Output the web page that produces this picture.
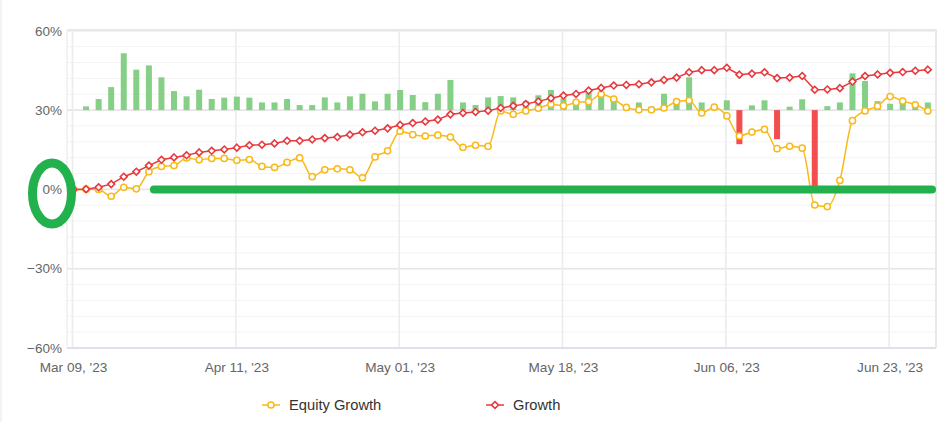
<!DOCTYPE html>
<html>
<head>
<meta charset="utf-8">
<script src="https://cdn.jsdelivr.net/npm/d3@7"></script>
<style>
  body { margin: 0; background: #fff; }
  text { font-family: 'Liberation Sans', Arial, sans-serif; }
</style>
</head>
<body>
<div id="chart"></div>
<script>
// one point per trading record, index 0 = Mar 09, '23
const growth = [
  0, 0.1, 0.8, 2.0, 4.8, 6.7, 9.0, 11.2, 12.1, 12.9, 14.0, 14.6, 15.1, 15.8,
  16.7, 16.9, 17.4, 18.4, 18.4, 18.9, 19.4, 19.8, 20.7, 21.6, 22.2, 23.1, 24.4,
  25.1, 25.7, 26.4, 28.4, 28.9, 29.3, 29.8, 30.8, 31.6, 32.3, 33.3, 34.5, 35.5,
  36.1, 37.4, 38.4, 39.3, 39.5, 39.8, 40.5, 41.4, 42.3, 44.3, 45.1, 45.1, 46.0,
  43.4, 43.8, 44.3, 42.1, 42.3, 42.9, 37.7, 37.8, 38.3, 40.8, 42.9, 43.5, 44.1,
  44.4, 44.9, 45.3
]

const equityGrowth = [
  0, 0.1, 0, -2.6, 0.8, 0.2, 6.7, 8.7, 9.0, 11.9, 11.2, 11.7, 11.7, 11.0,
  11.3, 8.7, 8.3, 10.2, 11.9, 4.8, 7.4, 7.8, 7.4, 4.4, 12.3, 14.6, 22.0,
  20.7, 20.2, 20.5, 19.8, 15.9, 16.7, 16.3, 29.7, 28.4, 29.7, 30.7, 32.2, 31.6,
  32.9, 33.2, 36.0, 34.2, 31.0, 30.1, 30.1, 30.8, 33.2, 33.6, 28.9, 31.1, 27.8,
  20.2, 21.7, 22.7, 15.4, 16.3, 15.6, -5.9, -6.5, 3.4, 26.0, 29.7, 31.5, 35.1,
  33.4, 32.0, 29.7
]

// daily change bars, drawn from the 30% line
const dailyChange = [
  0, 1.4, 4.2, 8.7, 21.5, 15.3, 16.9, 12.4, 7.2, 5.2, 7.7, 4.2, 4.7, 5.1,
  4.7, 2.9, 2.9, 4.2, 1.9, 1.9, 4.8, 2.9, 5.2, 6.2, 3.3, 6.2, 7.6,
  5.7, 3.0, 6.2, 11.4, 2.9, 1.9, 4.8, 5.3, 4.8, 3.4, 5.6, 7.6, 4.5,
  3.6, 7.8, 6.5, 3.8, 1.2, 2.9, 1.3, 6.2, 4.0, 12.4, 2.9, 1.5, 3.7,
  -12.9, 1.8, 3.7, -11.0, 1.3, 4.1, -29, 1.5, 2.9, 13.9, 11.0, 3.4, 2.4,
  3.4, 2.9, 2.9
]

const tickIndex = [0, 13, 26, 39, 52, 65]
const tickLabels = ["Mar 09, '23", "Apr 11, '23", "May 01, '23", "May 18, '23", "Jun 06, '23", "Jun 23, '23"]
const yTicks = [-60, -30, 0, 30, 60]
const barBase = 30

const width = 948
const height = 422

const svg = d3
  .select('#chart')
  .append('svg')
  .attr('width', width)
  .attr('height', height)

const xPositionScale = d3
  .scaleLinear()
  .domain([0, 68.65])
  .range([73.5, 936])

const yPositionScale = d3
  .scaleLinear()
  .domain([-60, 60])
  .range([348, 30.8])

// page border on the left
svg
  .append('line')
  .attr('x1', 1)
  .attr('x2', 1)
  .attr('y1', 0)
  .attr('y2', height)
  .attr('stroke', '#e6e6e6')

// minor + major horizontal grid
svg
  .append('g')
  .selectAll('line')
  .data(d3.range(-60, 61, 6))
  .enter()
  .append('line')
  .attr('x1', 67)
  .attr('x2', 936)
  .attr('y1', d => yPositionScale(d))
  .attr('y2', d => yPositionScale(d))
  .attr('stroke', d => (d % 30 === 0 ? '#e6e6e6' : '#f3f3f3'))
  .attr('stroke-width', d => (d % 30 === 0 ? 1.6 : 1))

// vertical grid at the date ticks
svg
  .append('g')
  .selectAll('line')
  .data(tickIndex)
  .enter()
  .append('line')
  .attr('x1', d => xPositionScale(d) - 1)
  .attr('x2', d => xPositionScale(d) - 1)
  .attr('y1', 30)
  .attr('y2', 348)
  .attr('stroke', '#ececec')
  .attr('stroke-width', 1.6)

// plot frame
svg
  .append('path')
  .attr('d', 'M67,30H936V348')
  .attr('fill', 'none')
  .attr('stroke', '#e8e8e8')
  .attr('stroke-width', 2)

svg
  .append('line')
  .attr('x1', 67)
  .attr('x2', 67)
  .attr('y1', 30)
  .attr('y2', 348)
  .attr('stroke', '#e3e7ef')

svg
  .append('line')
  .attr('x1', 67)
  .attr('x2', 936)
  .attr('y1', 348)
  .attr('y2', 348)
  .attr('stroke', '#ccd6eb')

// y labels
svg
  .append('g')
  .selectAll('text')
  .data(yTicks)
  .enter()
  .append('text')
  .attr('x', 62)
  .attr('y', d => yPositionScale(d))
  .attr('dy', '0.35em')
  .attr('text-anchor', 'end')
  .attr('font-size', 13.5)
  .attr('fill', '#666')
  .text(d => (d < 0 ? '\u2212' + Math.abs(d) : d) + '%')

// x labels
svg
  .append('g')
  .selectAll('text')
  .data(tickIndex)
  .enter()
  .append('text')
  .attr('x', d => xPositionScale(d))
  .attr('y', 371.5)
  .attr('text-anchor', 'middle')
  .attr('font-size', 13.6)
  .attr('fill', '#666')
  .text((d, i) => tickLabels[i])

// bars
svg
  .append('g')
  .selectAll('rect')
  .data(dailyChange.map((v, i) => ({ i, v })).filter(d => d.v !== 0))
  .enter()
  .append('rect')
  .attr('x', d => xPositionScale(d.i) - 3)
  .attr('width', 6)
  .attr('y', d => yPositionScale(barBase + Math.max(d.v, 0)))
  .attr('height', d => Math.abs(yPositionScale(barBase + d.v) - yPositionScale(barBase)))
  .attr('fill', d => (d.v > 0 ? '#86cf86' : '#f44d4d'))

const equityColor = '#f8b919'
const growthColor = '#e8393e'

const equityLine = d3
  .line()
  .x((d, i) => xPositionScale(i))
  .y(d => yPositionScale(d))
  .curve(d3.curveMonotoneX)

svg
  .append('path')
  .datum(equityGrowth)
  .attr('d', equityLine)
  .attr('fill', 'none')
  .attr('stroke', equityColor)
  .attr('stroke-width', 1.5)

svg
  .append('g')
  .selectAll('circle')
  .data(equityGrowth)
  .enter()
  .append('circle')
  .attr('cx', (d, i) => xPositionScale(i))
  .attr('cy', d => yPositionScale(d))
  .attr('r', 3.1)
  .attr('fill', '#fff')
  .attr('stroke', equityColor)
  .attr('stroke-width', 1.5)

const growthLine = d3
  .line()
  .x((d, i) => xPositionScale(i))
  .y(d => yPositionScale(d))

svg
  .append('path')
  .datum(growth)
  .attr('d', growthLine)
  .attr('fill', 'none')
  .attr('stroke', growthColor)
  .attr('stroke-width', 1.5)

const diamond = d3.symbol().type(d3.symbolDiamond2).size(30)

svg
  .append('g')
  .selectAll('path')
  .data(growth)
  .enter()
  .append('path')
  .attr('d', diamond)
  .attr('transform', (d, i) => 'translate(' + xPositionScale(i) + ',' + yPositionScale(d) + ')')
  .attr('fill', '#fff')
  .attr('stroke', growthColor)
  .attr('stroke-width', 1.6)

// legend
const legend = svg.append('g')

legend
  .append('line')
  .attr('x1', 262)
  .attr('x2', 280)
  .attr('y1', 405)
  .attr('y2', 405)
  .attr('stroke', equityColor)
  .attr('stroke-width', 1.5)

legend
  .append('circle')
  .attr('cx', 271)
  .attr('cy', 405)
  .attr('r', 3.1)
  .attr('fill', '#fff')
  .attr('stroke', equityColor)
  .attr('stroke-width', 1.5)

legend
  .append('text')
  .attr('x', 289)
  .attr('y', 410)
  .attr('font-size', 14.7)
  .attr('fill', '#333')
  .text('Equity Growth')

legend
  .append('line')
  .attr('x1', 486)
  .attr('x2', 504)
  .attr('y1', 405)
  .attr('y2', 405)
  .attr('stroke', growthColor)
  .attr('stroke-width', 1.5)

legend
  .append('path')
  .attr('d', diamond)
  .attr('transform', 'translate(495,405)')
  .attr('fill', '#fff')
  .attr('stroke', growthColor)
  .attr('stroke-width', 1.6)

legend
  .append('text')
  .attr('x', 513)
  .attr('y', 410)
  .attr('font-size', 14.7)
  .attr('fill', '#333')
  .text('Growth')

// hand-drawn highlight around the zero line
const mark = '#22b14c'

svg
  .append('ellipse')
  .attr('cx', 52)
  .attr('cy', yPositionScale(0) + 4)
  .attr('rx', 19.5)
  .attr('ry', 30.5)
  .attr('fill', 'none')
  .attr('stroke', mark)
  .attr('stroke-width', 9)

svg
  .append('line')
  .attr('x1', xPositionScale(6.4))
  .attr('x2', 932)
  .attr('y1', yPositionScale(0))
  .attr('y2', yPositionScale(0))
  .attr('stroke', mark)
  .attr('stroke-width', 8)
  .attr('stroke-linecap', 'round')
</script>
</body>
</html>
